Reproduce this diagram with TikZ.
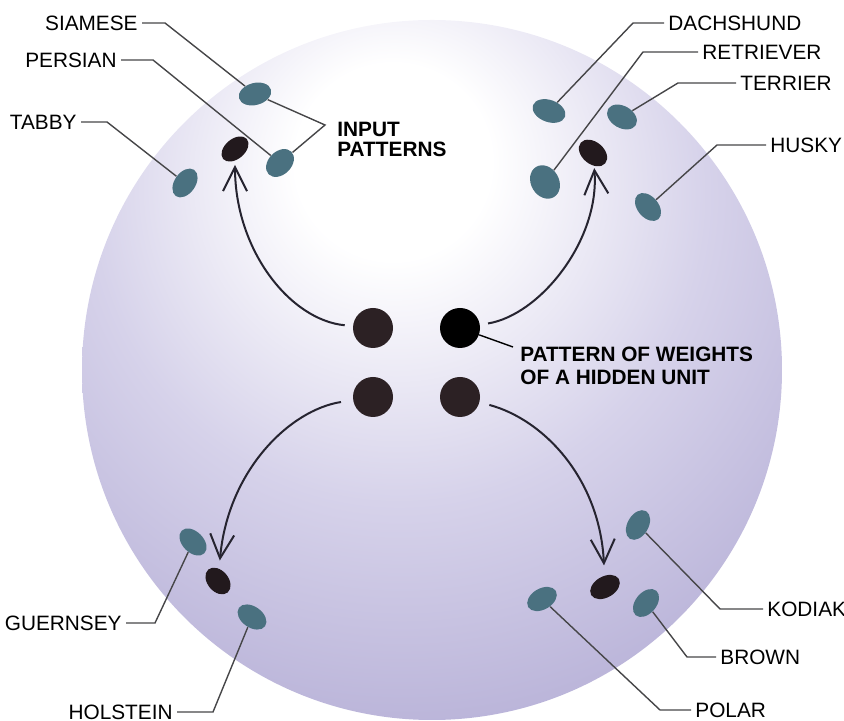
\documentclass[tikz,border=0pt]{standalone}
\usepackage{fontspec}
\setmainfont{Liberation Sans}
\usepackage{xcolor}
\usetikzlibrary{arrows.meta,shapes.geometric}

\definecolor{lavA}{RGB}{214,210,234}
\definecolor{lavB}{RGB}{186,180,217}
\definecolor{lavC}{RGB}{168,161,206}
\definecolor{patteal}{RGB}{74,113,128}
\definecolor{wblk}{RGB}{34,25,29}
\definecolor{unitblk}{RGB}{44,33,36}
\definecolor{leadgray}{RGB}{70,70,72}
\definecolor{arrgray}{RGB}{38,36,48}

\pgfdeclareradialshading{sphereshade}{\pgfpoint{-3bp}{16bp}}{%
  color(0bp)=(white); color(7bp)=(white); color(22bp)=(lavA);
  color(36bp)=(lavB); color(56bp)=(lavC); color(100bp)=(lavC)}

\begin{document}
\begin{tikzpicture}[x=0.5pt, y=0.5pt,
  every node/.style={font=\fontsize{10.4}{11}\selectfont},
  unit/.style={circle, fill=unitblk, minimum size=20pt, inner sep=0pt},
  pat/.style={ellipse, fill=patteal, minimum width=16pt, minimum height=10.5pt,
              inner sep=0pt},
  wpat/.style={pat, fill=wblk},
  lab/.style={inner sep=2pt},
  blab/.style={inner sep=2pt, align=left, font=\bfseries\fontsize{10.4}{10}\selectfont},
  lead/.style={draw=leadgray, line width=0.7pt},
  arr/.style={-{Straight Barb[length=12pt,width=12pt]}, line width=1pt, draw=arrgray},
]
\useasboundingbox (0,0) rectangle (844,721);
\shade[shading=sphereshade] (432,351) circle[radius=350];

% hidden units
\node[unit] (c-tl) at (373,393) {};
\node[unit, fill=black] (c-tr) at (460,393) {};
\node[unit] (c-bl) at (373,324) {};
\node[unit] (c-br) at (460,324) {};

% cats
\node[pat, rotate=15, minimum width=16.5pt, minimum height=11pt] (siamese) at (255,627) {};
\node[wpat, rotate=40, minimum width=15.5pt, minimum height=10pt] (w-tl) at (235,572) {};
\node[pat, rotate=45, minimum height=11.5pt] (persian) at (280,558) {};
\node[pat, rotate=55] (tabby) at (185,538) {};
% dogs
\node[pat, rotate=-20, minimum width=17pt, minimum height=11pt] (dachshund) at (549,610) {};
\node[pat, rotate=-60, minimum width=17.5pt, minimum height=14pt] (retriever) at (545,539) {};
\node[wpat, rotate=-40, minimum width=16pt, minimum height=11pt] (w-tr) at (593,568) {};
\node[pat, rotate=-30, minimum height=11pt] (terrier) at (622,604) {};
\node[pat, rotate=-50] (husky) at (648,514) {};
% cows
\node[pat, rotate=-45] (guernsey) at (193,179) {};
\node[wpat, rotate=-50, minimum width=15pt] (w-bl) at (218,140) {};
\node[pat, rotate=-35] (holstein) at (252,104) {};
% bears
\node[pat, rotate=60] (kodiak) at (638,196) {};
\node[wpat, rotate=30, minimum width=16pt] (w-br) at (605,134) {};
\node[pat, rotate=50] (brown) at (646,118) {};
\node[pat, rotate=30] (polar) at (542,122) {};

% labels
\node[lab, anchor=east] (l-siamese) at (142,698) {SIAMESE};
\node[lab, anchor=east] (l-persian) at (121,661) {PERSIAN};
\node[lab, anchor=east] (l-tabby) at (81,599) {TABBY};
\node[lab, anchor=west] (l-dachshund) at (664,698) {DACHSHUND};
\node[lab, anchor=west] (l-retriever) at (698,669) {RETRIEVER};
\node[lab, anchor=west] (l-terrier) at (736,638) {TERRIER};
\node[lab, anchor=west] (l-husky) at (766,576) {HUSKY};
\node[lab, anchor=east] (l-guernsey) at (126,98) {GUERNSEY};
\node[lab, anchor=east] (l-holstein) at (177,9) {HOLSTEIN};
\node[lab, anchor=west] (l-kodiak) at (763,112) {KODIAK};
\node[lab, anchor=west] (l-brown) at (716,64) {BROWN};
\node[lab, anchor=west] (l-polar) at (691,11) {POLAR};
\node[blab, anchor=west] (l-input) at (333,582) {INPUT\\PATTERNS};
\node[blab, anchor=west, font=\bfseries\fontsize{10.4}{11.5}\selectfont]
  (l-hidden) at (516,355) {PATTERN OF WEIGHTS\\OF A HIDDEN UNIT};

\coordinate (inp) at (325,596);
\coordinate (hid) at (513,374);

% leader lines
\draw[lead] (l-siamese.east) -- ++(23,0) -- (siamese);
\draw[lead] (l-persian.east) -- ++(32,0) -- (persian);
\draw[lead] (l-tabby.east) -- ++(26,0) -- (tabby);
\draw[lead] (l-dachshund.west) -- ++(-31,0) -- (dachshund);
\draw[lead] (l-retriever.west) -- ++(-55,0) -- (retriever);
\draw[lead] (l-terrier.west) -- ++(-58,0) -- (terrier);
\draw[lead] (l-husky.west) -- ++(-49,0) -- (husky);
\draw[lead] (l-guernsey.east) -- ++(29,0) -- (guernsey);
\draw[lead] (l-holstein.east) -- ++(36,0) -- (holstein);
\draw[lead] (l-kodiak.west) -- ++(-43,0) -- (kodiak);
\draw[lead] (l-brown.west) -- ++(-29,0) -- (brown);
\draw[lead] (l-polar.west) -- ++(-31,0) -- (polar);
\draw[lead] (siamese) -- (inp) -- (persian);
\draw[lead, draw=black] (c-tr) -- (hid);

% arrows
\draw[arr, shorten <=4pt, shorten >=2pt] (c-tl) .. controls (290,401) and (235,471) .. (w-tl);
\draw[arr, shorten <=4pt, shorten >=1pt] (c-tr) .. controls (540,406) and (600,481) .. (w-tr);
\draw[arr, shorten <=6pt, shorten >=4pt] (c-bl) .. controls (290,311) and (228,251) .. (w-bl);
\draw[arr, shorten <=5pt, shorten >=5pt] (c-br) .. controls (545,301) and (600,241) .. (w-br);
\end{tikzpicture}
\end{document}
